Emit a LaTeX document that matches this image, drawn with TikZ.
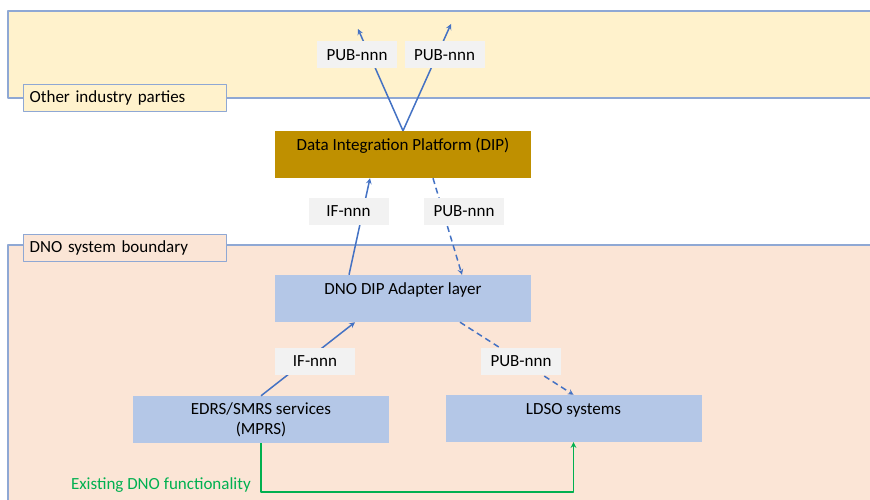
\documentclass[tikz,border=0pt]{standalone}
\usepackage{fontspec}
\setmainfont{Carlito}
\definecolor{bandline}{HTML}{8FA8D4}
\definecolor{partyfill}{HTML}{FFF2CC}
\definecolor{dnofill}{HTML}{FBE5D6}
\definecolor{dipgold}{HTML}{BF9000}
\definecolor{sysblue}{HTML}{B4C7E7}
\definecolor{tagfill}{HTML}{F2F2F2}
\definecolor{flowblue}{HTML}{4472C4}
\definecolor{existgreen}{HTML}{00B050}
\begin{document}
\begin{tikzpicture}[x=1pt,y=-1pt,>=stealth,line join=round,font=\fontsize{17}{20}\selectfont,
	band/.style={draw=bandline,line width=1.3pt},
	tag/.style={draw=bandline,line width=1.3pt,minimum height=27pt,text width=191pt,inner xsep=6pt,align=left,anchor=north west},
	sys/.style={fill=sysblue,minimum width=256pt,minimum height=47pt,align=center},
	flow/.style={flowblue,line width=1.5pt,->},
	iface/.style={fill=tagfill,minimum width=80pt,minimum height=27pt}]
	\clip (0,0) rectangle (870,500);
	\fill[white] (0,0) rectangle (870,500);
	% boundaries
	\draw[band,fill=partyfill] (8,11) rectangle (880,98);
	\draw[band,fill=dnofill] (8,245) rectangle (880,510);
	\node[tag,fill=partyfill] (parties) at (23,84) {Other industry parties};
	\node[tag,fill=dnofill] (dnobound) at (23,234) {DNO system boundary};
	% systems
	\node[sys,fill=dipgold] (dip) at (403,154.5) {Data Integration Platform (DIP)\\~};
	\node[sys] (adapter) at (403,298.5) {DNO DIP Adapter layer\\~};
	\node[sys] (edrs) at (261,419.5) {EDRS/SMRS services\\(MPRS)};
	\node[sys] (ldso) at (573.5,418.5) {LDSO systems\\~};
	% flows
	\coordinate (out1) at (358,29);
	\coordinate (out2) at (451,24);
	\draw[flow] (dip.north) -- (out1);
	\draw[flow] (dip.north) -- (out2);
	\draw[flow] ([xshift=-54pt]adapter.north) -- ([xshift=-33pt]dip.south);
	\draw[flow,dash pattern=on 6pt off 4pt] ([xshift=30pt]dip.south) -- ([xshift=59pt]adapter.north);
	\draw[flow] (edrs.north) -- ([xshift=-48pt]adapter.south);
	\draw[flow,dash pattern=on 6pt off 4pt] ([xshift=57pt]adapter.south) -- (ldso.north);
	\draw[existgreen,line width=1.5pt,->] (edrs.south) -- ++(0,49) -| (ldso.south);
	% interface labels
	\node[iface] (pub1) at (357,55) {PUB-nnn};
	\node[iface] (pub2) at (444.5,55) {PUB-nnn};
	\node[iface] (if1) at (348.5,211.5) {IF-nnn};
	\node[iface] (pub3) at (464,211.5) {PUB-nnn};
	\node[iface] (if2) at (315,361.5) {IF-nnn};
	\node[iface] (pub4) at (521,361.5) {PUB-nnn};
	\node[text=existgreen,anchor=east,inner sep=0pt] (existing) at (251,485) {Existing DNO functionality};
\end{tikzpicture}
\end{document}
